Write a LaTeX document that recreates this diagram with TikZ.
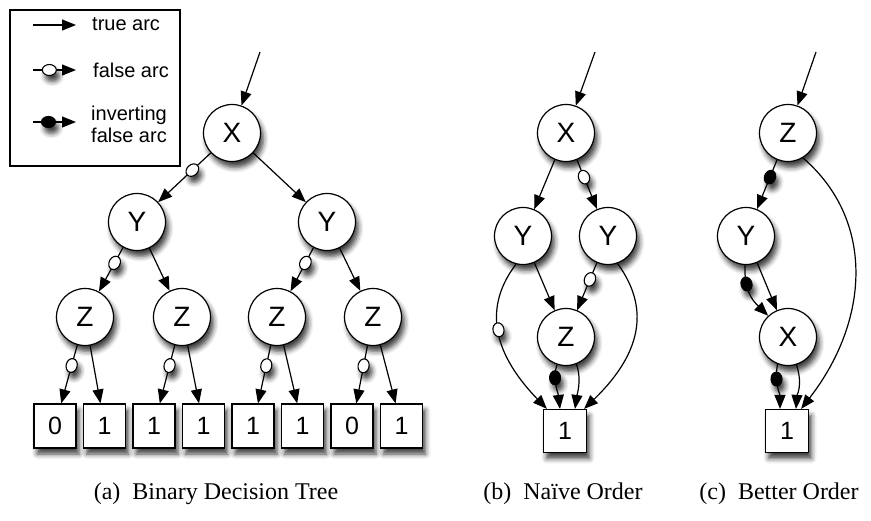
\documentclass[tikz,border=0pt]{standalone}
\usepackage{fontspec}
\setmainfont{Liberation Serif}
\setsansfont{Liberation Sans}
\usetikzlibrary{arrows.meta,shapes.geometric,shadows.blur}
\begin{document}
\begin{tikzpicture}[x=1pt,y=-1pt,
 shd/.style={blur shadow={shadow xshift=3pt,shadow yshift=-6pt,shadow blur radius=5pt,shadow opacity=75}},
 vnode/.style={circle,draw,line width=1.2pt,fill=white,minimum size=57pt,inner sep=0pt,font=\sffamily\fontsize{28}{28}\selectfont,shd},
 leaf/.style={rectangle,draw,line width=1.2pt,fill=white,minimum width=42pt,minimum height=44pt,inner sep=0pt,font=\sffamily\fontsize{25}{25}\selectfont,shd},
 arc/.style={line width=1.2pt,-{Triangle[length=14pt,width=11pt]}},
 fb/.style={ellipse,draw,line width=1.1pt,fill=white,minimum width=14pt,minimum height=11pt,inner sep=0pt,sloped,shd},
 ib/.style={fb,fill=black},
 lgtext/.style={font=\sffamily\fontsize{20}{22}\selectfont,align=center,inner sep=0pt},
 captext/.style={font=\rmfamily\fontsize{24}{24}\selectfont,inner sep=0pt}
]
\useasboundingbox (0,0) rectangle (871,520);

% legend
\node[draw,line width=1.1pt,minimum width=170pt,minimum height=156pt,inner sep=0pt] (legend) at (95,88) {};
\coordinate (t1) at (33,25); \coordinate (t2) at (76,25);
\coordinate (f1) at (33,70); \coordinate (f2) at (76,70);
\coordinate (i1) at (33,122); \coordinate (i2) at (76,122);
\draw[arc] (t1) -- (t2);
\draw[arc] (f1) -- node[fb,pos=0.38]{} (f2);
\draw[arc] (i1) -- node[ib,pos=0.36]{} (i2);
\node[lgtext,anchor=west] (lt) at (92,24) {true arc};
\node[lgtext,anchor=west] (lf) at (93,70) {false arc};
\node[lgtext,anchor=west] (li) at (91,124) {inverting\\false arc};

% (a) binary decision tree
\node[vnode] (ax) at (232,133) {X};
\node[vnode] (ay1) at (137,222) {Y};
\node[vnode] (ay2) at (327,222) {Y};
\node[vnode] (az1) at (85,317) {Z};
\node[vnode] (az2) at (182,317) {Z};
\node[vnode] (az3) at (277,317) {Z};
\node[vnode] (az4) at (373,317) {Z};
\node[leaf] (l1) at (55,426) {0};
\node[leaf] (l2) at (104.5,426) {1};
\node[leaf] (l3) at (154,426) {1};
\node[leaf] (l4) at (203.5,426) {1};
\node[leaf] (l5) at (253,426) {1};
\node[leaf] (l6) at (302.5,426) {1};
\node[leaf] (l7) at (352,426) {0};
\node[leaf] (l8) at (401.5,426) {1};
\coordinate (ain) at (260,52);
\draw[arc] (ain) -- (ax);
\draw[arc] (ax) -- node[fb,pos=0.35]{} (ay1);
\draw[arc] (ax) -- (ay2);
\draw[arc] (ay1) -- node[fb,pos=0.35]{} (az1);
\draw[arc] (ay1) -- (az2);
\draw[arc] (ay2) -- node[fb,pos=0.35]{} (az3);
\draw[arc] (ay2) -- (az4);
\draw[arc] (az1) -- node[fb,pos=0.35]{} (l1);
\draw[arc] (az1) -- (l2);
\draw[arc] (az2) -- node[fb,pos=0.35]{} (l3);
\draw[arc] (az2) -- (l4);
\draw[arc] (az3) -- node[fb,pos=0.35]{} (l5);
\draw[arc] (az3) -- (l6);
\draw[arc] (az4) -- node[fb,pos=0.35]{} (l7);
\draw[arc] (az4) -- (l8);

% (b) naive order
\node[vnode] (bx) at (566,133) {X};
\node[vnode] (by1) at (523,236) {Y};
\node[vnode] (by2) at (608,236) {Y};
\node[vnode] (bz) at (566,337) {Z};
\node[leaf,minimum width=43pt,minimum height=43pt] (bo) at (565,431) {1};
\coordinate (bin) at (595,52);
\draw[arc] (bin) -- (bx);
\draw[arc] (bx) -- (by1);
\draw[arc] (bx) -- node[fb,pos=0.35]{} (by2);
\draw[arc] (by1) -- (bz);
\draw[arc] (by2) -- node[fb,pos=0.35]{} (bz);
\draw[arc] (by1.256) .. controls (485,305) and (490,350) .. node[fb,pos=0.5]{} ([xshift=4pt]bo.north west);
\draw[arc] (by2.289) .. controls (648,305) and (645,350) .. ([xshift=-3pt]bo.north east);
\draw[arc] (bz.252) .. controls (552,380) and (558,392) .. node[ib,pos=0.3]{} ([xshift=-5pt]bo.north);
\draw[arc] (bz.291) .. controls (582,380) and (577,395) .. ([xshift=10pt]bo.north);

% (c) better order
\node[vnode] (cz) at (788,133) {Z};
\node[vnode] (cy) at (746,236) {Y};
\node[vnode] (cx) at (788,337) {X};
\node[leaf,minimum width=43pt,minimum height=43pt] (co) at (787,431) {1};
\coordinate (cin) at (816,52);
\draw[arc] (cin) -- (cz);
\draw[arc] (cz) -- node[ib,pos=0.35]{} (cy);
\draw[arc] (cz.301) .. controls (875,220) and (870,320) .. ([xshift=-8pt]co.north east);
\draw[arc] (cy.268) .. controls (744,290) and (752,300) .. node[ib,pos=0.3]{} (cx.133);
\draw[arc] (cy) -- (cx);
\draw[arc] (cx.249) .. controls (774,382) and (780,395) .. node[ib,pos=0.3]{} ([xshift=-7pt]co.north);
\draw[arc] (cx.287) .. controls (803,385) and (797,395) .. ([xshift=9pt]co.north);

% captions
\node[captext] (capa) at (216,494) {(a)~~Binary Decision Tree};
\node[captext] (capb) at (563,494) {(b)~~Naïve Order};
\node[captext] (capc) at (779,494) {(c)~~Better Order};
\end{tikzpicture}
\end{document}
